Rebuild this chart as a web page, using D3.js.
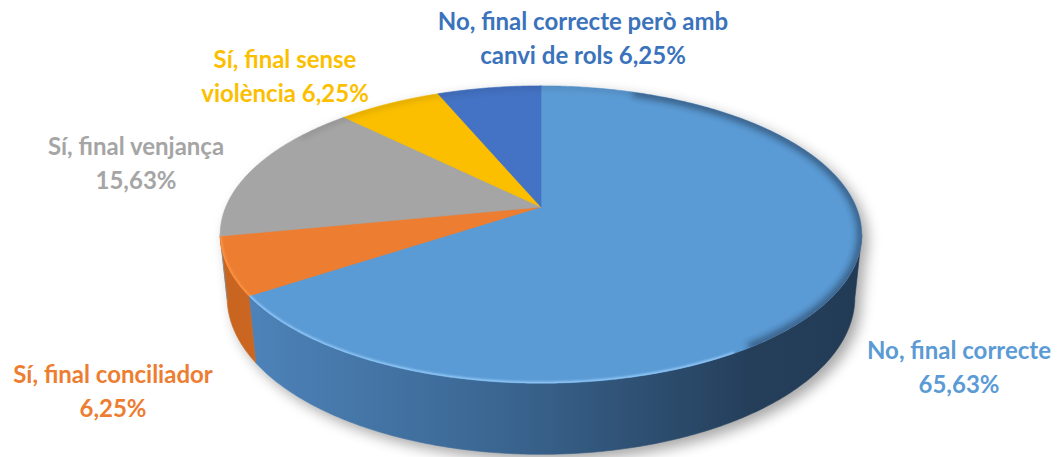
<!DOCTYPE html>
<html>
<head>
<meta charset="utf-8">
<script src="https://cdn.jsdelivr.net/npm/d3@7"></script>
<style>
  body { margin: 0; background: #fff; }
  svg { display: block; }
  .label { font-family: Lato, "Open Sans", sans-serif; font-weight: bold; font-size: 24px; }
</style>
</head>
<body>
<div id="chart"></div>
<script>
var categories = ["No, final correcte", "Sí, final conciliador", "Sí, final venjança",
                  "Sí, final sense violència", "No, final correcte però amb canvi de rols"];
var values = [65.63, 6.25, 15.63, 6.25, 6.25];
// label text per slice, {p} is replaced by the percentage
var labelLines = [
    ["No, final correcte", "{p}"],
    ["Sí, final conciliador", "{p}"],
    ["Sí, final venjança", "{p}"],
    ["Sí, final sense", "violència {p}"],
    ["No, final correcte però amb", "canvi de rols {p}"]
];

var topColors = ["#5b9bd5", "#ed7d31", "#a5a5a5", "#fbbf00", "#4472c4"];
var labelColors = ["#5b9bd5", "#ed7d31", "#a5a5a5", "#fbbf00", "#3a73bb"];
// first-line baseline of each label (layout only)
var labelAnchors = [[959, 359], [113, 383], [136, 155], [285, 68], [583, 30]];
var lineGap = 34;

var width = 1058, height = 457;
var cx = 541, cy = 207;
var f = 1513, D = 4.8, H = 0.225;
var tilt = 27.1 * Math.PI / 180, ct = Math.cos(tilt), st = Math.sin(tilt);

var fmt = d3.formatLocale({decimal: ",", thousands: ".", grouping: [3], currency: ["", "€"]}).format(".2f");

function project(a, r, y) {
    var X = r * Math.sin(a), Z = r * Math.cos(a);
    var yc = y * ct + Z * st, zc = D + Z * ct - y * st;
    return [cx + f * X / zc, cy - f * yc / zc];
}

function rim(a0, a1, y) {
    var n = Math.max(2, Math.ceil(Math.abs(a1 - a0) / 0.01));
    var pts = [];
    for (var i = 0; i <= n; i++) pts.push(project(a0 + (a1 - a0) * i / n, 1, y));
    return pts;
}

var line = d3.line();

var svg = d3.select("#chart")
    .append("svg")
    .attr("width", width)
    .attr("height", height);

var defs = svg.append("defs");

defs.append("filter").attr("id", "shadow")
    .attr("x", "-10%").attr("y", "-10%").attr("width", "120%").attr("height", "130%")
    .append("feGaussianBlur").attr("stdDeviation", 7);

defs.append("filter").attr("id", "soft")
    .attr("x", "-10%").attr("y", "-10%").attr("width", "120%").attr("height", "120%")
    .append("feGaussianBlur").attr("stdDeviation", 3);

defs.append("filter").attr("id", "soft1")
    .attr("x", "-10%").attr("y", "-10%").attr("width", "120%").attr("height", "120%")
    .append("feGaussianBlur").attr("stdDeviation", 1);

var left = project(-Math.PI / 2, 1, 0)[0] - 30, right = project(Math.PI / 2, 1, 0)[0] + 30;

function sideGradient(id, stops) {
    var g = defs.append("linearGradient").attr("id", id)
        .attr("gradientUnits", "userSpaceOnUse")
        .attr("x1", left).attr("x2", right).attr("y1", 0).attr("y2", 0);
    stops.forEach(function(s) {
        g.append("stop").attr("offset", s[0]).attr("stop-color", s[1]);
    });
}
sideGradient("side0", [[0, "#5189c2"], [0.45, "#3a6590"], [0.8, "#253f5b"], [1, "#223a54"]]);
sideGradient("side1", [[0, "#c5621d"], [0.15, "#cf6a24"], [1, "#9a4d16"]]);
sideGradient("side2", [[0, "#8a8a8a"], [1, "#6a6a6a"]]);
sideGradient("side3", [[0, "#d9a300"], [1, "#b88a00"]]);
sideGradient("side4", [[0, "#385fa3"], [1, "#2a4a80"]]);

var arcs = d3.pie().sort(null).value(function(d) { return d; })(values);

// visible part of the side wall
var aVis = Math.acos(-ct / D), bVis = 2 * Math.PI - aVis;

var apex = project(0, 0, 0);

// drop shadow
var sh = svg.append("g").attr("filter", "url(#shadow)").attr("transform", "translate(6,6)")
    .attr("opacity", 0.35);
sh.append("path").attr("d", line(rim(0, 2 * Math.PI, 0)) + "Z").attr("fill", "#000");
sh.append("path").attr("d", line(rim(aVis, bVis, 0).concat(rim(bVis, aVis, -H))) + "Z").attr("fill", "#000");

// side walls
svg.append("g").selectAll("path")
    .data(arcs.filter(function(d) { return d.endAngle > aVis && d.startAngle < bVis; }))
    .join("path")
    .attr("d", function(d) {
        var lo = Math.max(d.startAngle, aVis), hi = Math.min(d.endAngle, bVis);
        return line(rim(lo, hi, 0).concat(rim(hi, lo, -H))) + "Z";
    })
    .attr("fill", function(d) { return "url(#side" + d.index + ")"; })
    .attr("stroke", function(d) { return "url(#side" + d.index + ")"; })
    .attr("stroke-width", 0.6);

// top faces
defs.append("clipPath").attr("id", "topclip")
    .append("path").attr("d", line(rim(0, 2 * Math.PI, 0)) + "Z");

var topG = svg.append("g");
topG.selectAll("path")
    .data(arcs)
    .join("path")
    .attr("d", function(d) { return line([apex].concat(rim(d.startAngle, d.endAngle, 0))) + "Z"; })
    .attr("fill", function(d) { return topColors[d.index]; })
    .attr("stroke", function(d) { return topColors[d.index]; })
    .attr("stroke-width", 0.6);

// bevel shading along the rim
var bevel = svg.append("g").attr("clip-path", "url(#topclip)");
bevel.append("path")
    .attr("d", line(rim(0.35, 2.55, 0)))
    .attr("fill", "none").attr("stroke", "#1d3550").attr("stroke-opacity", 0.55)
    .attr("stroke-width", 10).attr("filter", "url(#soft)");
bevel.append("path")
    .attr("d", line(rim(-1.0, 0.35, 0)))
    .attr("fill", "none").attr("stroke", "#000").attr("stroke-opacity", 0.12)
    .attr("stroke-width", 6).attr("filter", "url(#soft)");
bevel.append("path")
    .attr("d", line(rim(2.6, arcs[0].endAngle, 0)))
    .attr("fill", "none").attr("stroke", "#9fd3ff").attr("stroke-opacity", 0.9)
    .attr("stroke-width", 3).attr("filter", "url(#soft1)");
bevel.append("path")
    .attr("d", line(rim(arcs[1].startAngle, arcs[1].endAngle, 0)))
    .attr("fill", "none").attr("stroke", "#ff9a4a").attr("stroke-opacity", 0.9)
    .attr("stroke-width", 3).attr("filter", "url(#soft1)");

// labels
var labels = svg.append("g").selectAll("text")
    .data(arcs)
    .join("text")
    .attr("class", "label")
    .attr("text-anchor", "middle")
    .attr("fill", function(d) { return labelColors[d.index]; });

labels.each(function(d) {
    var t = d3.select(this);
    labelLines[d.index].forEach(function(s, i) {
        t.append("tspan")
            .attr("x", labelAnchors[d.index][0])
            .attr("y", labelAnchors[d.index][1] + i * lineGap)
            .text(s.replace("{p}", fmt(d.value) + "%"));
    });
});
</script>
</body>
</html>
